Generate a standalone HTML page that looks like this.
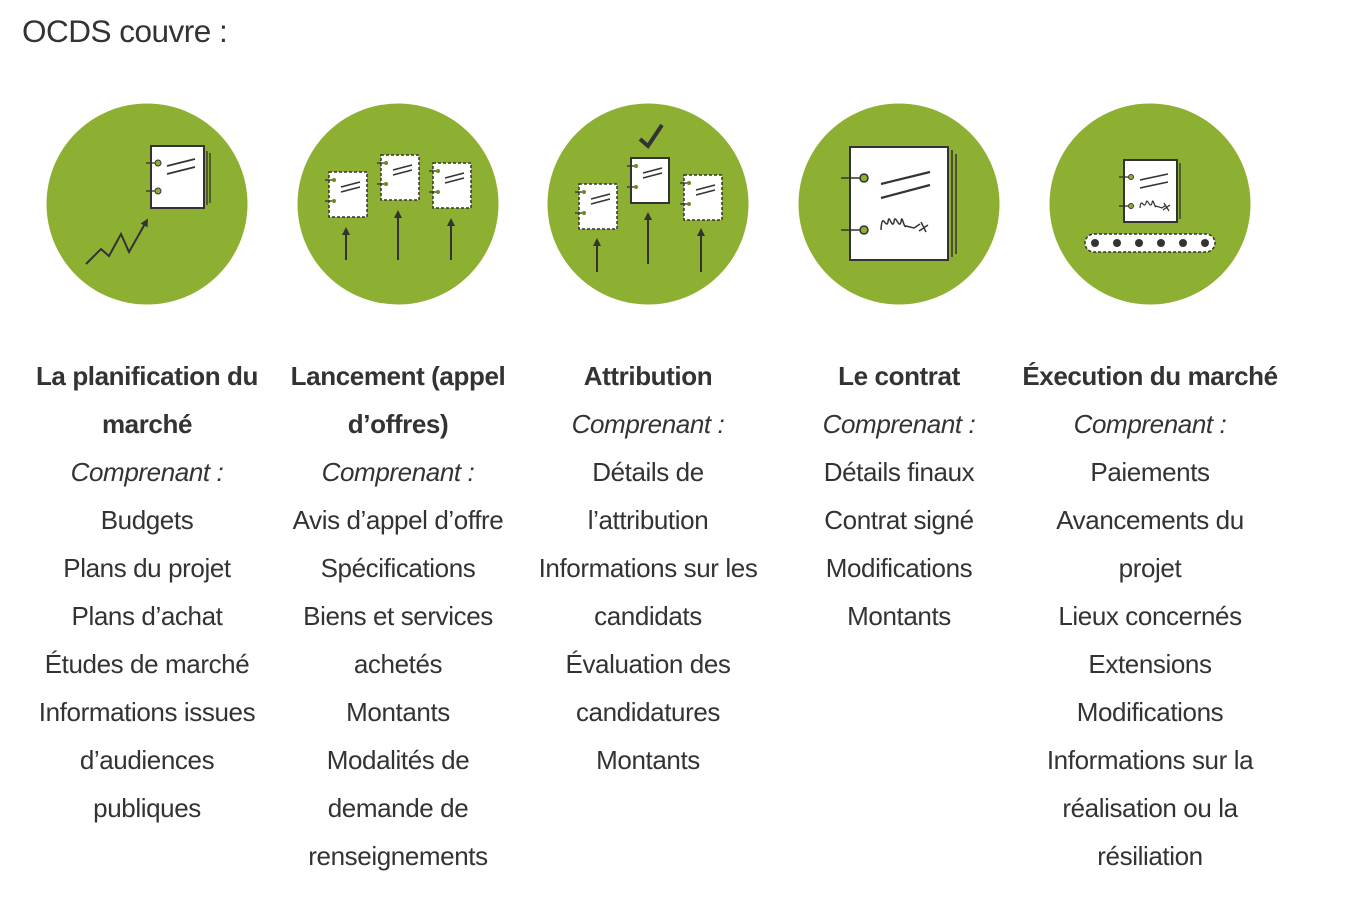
<!DOCTYPE html>
<html><head><meta charset="utf-8"><style>
body{margin:0;background:#fff;width:1370px;height:918px;overflow:hidden;position:relative;font-family:"Liberation Sans",sans-serif;color:#333}
h1{position:absolute;left:22px;top:13px;margin:0;font-weight:normal;font-size:31.5px;letter-spacing:-0.5px}
.col{position:absolute;top:352px;width:300px;text-align:center;font-size:26px;line-height:48px;letter-spacing:-0.4px}
.col b{font-weight:bold}
.col i{font-style:italic}
svg{position:absolute;left:0;top:0}
</style></head><body>
<h1>OCDS couvre :</h1>
<svg width="1370" height="320" viewBox="0 0 1370 320">
<defs>
<marker id="ah" viewBox="0 0 10 10" refX="5" refY="5" markerWidth="4" markerHeight="4" orient="auto"><path d="M0,0L10,5L0,10z" fill="#333"/></marker>
<g id="sd">
<rect x="0" y="0" width="38" height="45" fill="#fff" stroke="#333" stroke-width="1.5" stroke-dasharray="3,2"/>
<line x1="-4" y1="8" x2="5" y2="8" stroke="#333" stroke-width="1.3"/><circle cx="5" cy="8" r="2" fill="#6a8a2a"/>
<line x1="-4" y1="29" x2="5" y2="29" stroke="#333" stroke-width="1.3"/><circle cx="5" cy="29" r="2" fill="#6a8a2a"/>
<line x1="12" y1="15" x2="31" y2="10" stroke="#333" stroke-width="1.6"/><line x1="12" y1="20" x2="31" y2="15" stroke="#333" stroke-width="1.6"/>
</g>
</defs>
<g fill="#8db032"><circle cx="147" cy="204" r="100.5"/><circle cx="398" cy="204" r="100.5"/><circle cx="648" cy="204" r="100.5"/><circle cx="899" cy="204" r="100.5"/><circle cx="1150" cy="204" r="100.5"/></g>
<rect x="151" y="146" width="53" height="62" fill="#fff" stroke="#333" stroke-width="2"/>
<line x1="207" y1="151" x2="207" y2="205" stroke="#333" stroke-width="1.3"/><line x1="210" y1="153" x2="210" y2="203" stroke="#333" stroke-width="1.3"/>
<line x1="146" y1="163" x2="155" y2="163" stroke="#333" stroke-width="1.3"/><circle cx="158" cy="163" r="3" fill="#8db032" stroke="#333"/>
<line x1="146" y1="191" x2="155" y2="191" stroke="#333" stroke-width="1.3"/><circle cx="158" cy="191" r="3" fill="#8db032" stroke="#333"/>
<line x1="167" y1="166" x2="195" y2="159" stroke="#333" stroke-width="1.8"/><line x1="167" y1="174" x2="195" y2="167" stroke="#333" stroke-width="1.8"/>
<polyline points="86,264 101,249 109,256 121,234 129,252 146,222" fill="none" stroke="#333" stroke-width="2" marker-end="url(#ah)"/>
<use href="#sd" x="329" y="172"/><use href="#sd" x="381" y="155"/><use href="#sd" x="433" y="163"/>
<g stroke="#333" stroke-width="2" marker-end="url(#ah)"><line x1="346" y1="260" x2="346" y2="231"/><line x1="398" y1="260" x2="398" y2="214"/><line x1="451" y1="260" x2="451" y2="222"/></g>
<use href="#sd" x="579" y="184"/><use href="#sd" x="684" y="175"/>
<use href="#sd" x="631" y="158"/><rect x="631" y="158" width="38" height="45" fill="none" stroke="#333" stroke-width="2"/>
<polyline points="640,139 648,146 662,125" fill="none" stroke="#333" stroke-width="4"/>
<g stroke="#333" stroke-width="2" marker-end="url(#ah)"><line x1="597" y1="272" x2="597" y2="242"/><line x1="648" y1="264" x2="648" y2="216"/><line x1="701" y1="272" x2="701" y2="232"/></g>
<rect x="850" y="147" width="98" height="113" fill="#fff" stroke="#333" stroke-width="2"/>
<line x1="952" y1="150" x2="952" y2="257" stroke="#333" stroke-width="1.5"/><line x1="956" y1="154" x2="956" y2="254" stroke="#333" stroke-width="1.5"/>
<line x1="841" y1="178" x2="860" y2="178" stroke="#333" stroke-width="1.5"/><circle cx="864" cy="178" r="4" fill="#8db032" stroke="#333" stroke-width="1.5"/>
<line x1="841" y1="230" x2="860" y2="230" stroke="#333" stroke-width="1.5"/><circle cx="864" cy="230" r="4" fill="#8db032" stroke="#333" stroke-width="1.5"/>
<line x1="881" y1="184" x2="930" y2="172" stroke="#333" stroke-width="2.2"/><line x1="881" y1="198" x2="930" y2="185" stroke="#333" stroke-width="2.2"/>
<path d="M881,230 C882,210 886,230 888,222 C889,212 892,230 894,222 C895,212 899,230 901,222 C902,212 904,230 906,226 L914,228 L920,224 M921,222 L926,232 M919,231 L928,225" fill="none" stroke="#333" stroke-width="1.5"/>
<rect x="1124" y="160" width="53" height="62" fill="#fff" stroke="#333" stroke-width="2"/>
<line x1="1180" y1="163" x2="1180" y2="219" stroke="#333" stroke-width="1.3"/>
<line x1="1119" y1="177" x2="1128" y2="177" stroke="#333" stroke-width="1.3"/><circle cx="1131" cy="177" r="2.5" fill="#8db032" stroke="#333"/>
<line x1="1119" y1="206" x2="1128" y2="206" stroke="#333" stroke-width="1.3"/><circle cx="1131" cy="206" r="2.5" fill="#8db032" stroke="#333"/>
<line x1="1140" y1="180" x2="1168" y2="174" stroke="#333" stroke-width="1.6"/><line x1="1140" y1="188" x2="1168" y2="182" stroke="#333" stroke-width="1.6"/>
<path d="M1140,208 C1141,196 1144,210 1146,203 C1147,196 1150,210 1152,203 C1153,196 1155,210 1156,206 L1162,208 L1166,205 M1164,203 L1169,211 M1163,210 L1170,205" fill="none" stroke="#333" stroke-width="1.2"/>
<rect x="1085" y="234" width="130" height="18" rx="9" fill="#fff" stroke="#333" stroke-width="1.5" stroke-dasharray="3,2"/>
<g fill="#333"><circle cx="1095" cy="243" r="4"/><circle cx="1117" cy="243" r="4"/><circle cx="1139" cy="243" r="4"/><circle cx="1161" cy="243" r="4"/><circle cx="1183" cy="243" r="4"/><circle cx="1205" cy="243" r="4"/></g>
</svg>
<div class="col" style="left:-3px"><b>La planification du</b><br><b>marché</b><br><i>Comprenant :</i><br>Budgets<br>Plans du projet<br>Plans d’achat<br>Études de marché<br>Informations issues<br>d’audiences<br>publiques</div>
<div class="col" style="left:248px"><b>Lancement (appel</b><br><b>d’offres)</b><br><i>Comprenant :</i><br>Avis d’appel d’offre<br>Spécifications<br>Biens et services<br>achetés<br>Montants<br>Modalités de<br>demande de<br>renseignements</div>
<div class="col" style="left:498px"><b>Attribution</b><br><i>Comprenant :</i><br>Détails de<br>l’attribution<br>Informations sur les<br>candidats<br>Évaluation des<br>candidatures<br>Montants</div>
<div class="col" style="left:749px"><b>Le contrat</b><br><i>Comprenant :</i><br>Détails finaux<br>Contrat signé<br>Modifications<br>Montants</div>
<div class="col" style="left:1000px"><b>Éxecution du marché</b><br><i>Comprenant :</i><br>Paiements<br>Avancements du<br>projet<br>Lieux concernés<br>Extensions<br>Modifications<br>Informations sur la<br>réalisation ou la<br>résiliation</div>
</body></html>
